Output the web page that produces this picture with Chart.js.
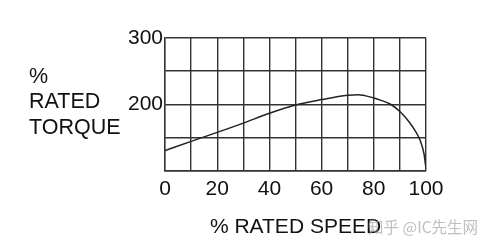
<!DOCTYPE html>
<html>
<head>
<meta charset="utf-8">
<script src="https://cdn.jsdelivr.net/npm/chart.js@4.4.1/dist/chart.umd.min.js"></script>
<style>
  html, body { margin: 0; padding: 0; background: #fff; }
  #c { display: block; }
</style>
</head>
<body>
<canvas id="c" width="489" height="246"></canvas>
<script>
// % rated speed (x) vs % rated torque (y)
const speed = [0, 10, 20, 30, 40, 50, 60, 70, 74, 80, 83, 86.4, 90, 93.4, 96, 97.9, 99.2, 100];
const torque = [130, 144, 157.5, 171.5, 186.5, 199, 207, 213.5, 214.5, 209.5, 205.5, 200, 189, 174, 159, 144, 126, 103];

const yLabelLines = ['%', 'RATED', 'TORQUE'];
const xTitle = '% RATED SPEED';
const watermark = '知乎 @IC先生网';

const FONT = '"Liberation Sans", Arial, sans-serif';
const GRID = '#333';

// left label + watermark are plain canvas text
const sideText = {
  id: 'sideText',
  afterDraw(chart) {
    const ctx = chart.ctx;
    ctx.save();
    ctx.fillStyle = '#111';
    ctx.font = '21.5px ' + FONT;
    ctx.textAlign = 'left';
    ctx.textBaseline = 'middle';
    yLabelLines.forEach((t, i) => ctx.fillText(t, 29, 77 + i * 25.3));
    ctx.fillStyle = 'rgba(170,170,170,0.75)';
    ctx.font = '15.5px "Noto Sans CJK SC", sans-serif';
    ctx.fillText(watermark, 368, 227);
    ctx.restore();
  }
};

new Chart(document.getElementById('c'), {
  type: 'line',
  data: {
    datasets: [{
      data: speed.map((s, i) => ({ x: s, y: torque[i] })),
      borderColor: '#222',
      borderWidth: 1.5,
      pointRadius: 0,
      cubicInterpolationMode: 'monotone',
      fill: false
    }]
  },
  options: {
    responsive: false,
    animation: false,
    layout: { padding: { top: 38, right: 63, bottom: 0, left: 0 } },
    plugins: { legend: { display: false }, tooltip: { enabled: false } },
    scales: {
      x: {
        type: 'linear',
        min: 0,
        max: 100,
        afterFit: (s) => { s.height = 75.5; },
        grid: { color: GRID, lineWidth: 1.4, drawTicks: false },
        border: { color: GRID, width: 1.4 },
        ticks: {
          stepSize: 10,
          padding: 6,
          color: '#111',
          font: { family: FONT, size: 21 },
          maxRotation: 0,
          autoSkip: false,
          callback: (v) => (v % 20 === 0 ? v : '')
        },
        title: {
          display: true,
          text: xTitle,
          color: '#111',
          font: { family: FONT, size: 21 },
          padding: { top: 0, bottom: 6 }
        }
      },
      y: {
        min: 100,
        max: 300,
        afterFit: (s) => { s.width = 165; },
        grid: { color: GRID, lineWidth: 1.4, drawTicks: false },
        border: { color: GRID, width: 1.4 },
        ticks: {
          stepSize: 50,
          padding: 2,
          color: '#111',
          font: { family: FONT, size: 21 },
          callback: (v) => (v === 200 || v === 300 ? v : '')
        }
      }
    }
  },
  plugins: [sideText]
});
</script>
</body>
</html>
